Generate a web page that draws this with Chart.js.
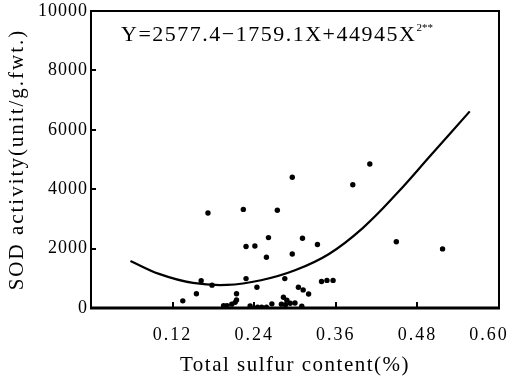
<!DOCTYPE html>
<html>
<head>
<meta charset="utf-8">
<script src="https://cdn.jsdelivr.net/npm/chart.js@4.4.1/dist/chart.umd.min.js"></script>
<style>
  html, body { margin: 0; padding: 0; background: #fff; }
  #wrap { width: 509px; height: 378px; }
</style>
</head>
<body>
<div id="wrap"><canvas id="chart" width="509" height="378"></canvas></div>
<script>
//  DATA
// sulfur content (%) and SOD activity for each sample
var sulfurX = [
  0.172, 0.224, 0.274, 0.296, 0.385, 0.410, 0.228, 0.241, 0.261, 0.258,
  0.296, 0.311, 0.333, 0.449, 0.517, 0.162, 0.178, 0.228, 0.285, 0.244,
  0.155, 0.135, 0.214, 0.214, 0.212, 0.207, 0.200, 0.195, 0.234, 0.245,
  0.251, 0.258, 0.266, 0.283, 0.288, 0.293, 0.280, 0.286, 0.300, 0.310,
  0.305, 0.312, 0.320, 0.339, 0.347, 0.356
];
var sodY = [
  3200, 3320, 3290, 4400, 4150, 4850, 2070, 2090, 2370, 1710,
  1820, 2350, 2140, 2230, 1990, 920, 770, 990, 990, 700,
  480, 240, 480, 270, 190, 130, 80, 80, 70, 30,
  30, 30, 140, 360, 260, 160, 130, 110, 170, 60,
  700, 610, 470, 890, 930, 930
];

// fitted curve
var curveX = [0.058, 0.10, 0.15, 0.20, 0.25, 0.30, 0.35, 0.40, 0.45, 0.50, 0.557];
var curveY = [1585, 1150, 845, 778, 935, 1270, 1820, 2700, 3860, 5150, 6620];

var xTicks = [0, 0.12, 0.24, 0.36, 0.48, 0.60];
var yTicks = [0, 2000, 4000, 6000, 8000, 10000];

var equation = "Y=2577.4\u22121759.1X+44945X";
var equationSup = "2**";

//  HELPERS
function pairs(xs, ys) {
  var out = [];
  for (var i = 0; i < xs.length; i++) out.push({ x: xs[i], y: ys[i] });
  return out;
}

var SERIF = "'Liberation Serif', 'DejaVu Serif', serif";

function withSpacing(fn, sp) {
  return function (a) {
    var c = this.ctx;
    c.save();
    c.letterSpacing = sp;
    fn.call(this, a);
    c.restore();
  };
}

// letter spacing on the axis text, the print is quite spread out
var spacingPlugin = {
  id: "spacing",
  afterLayout: function (chart) {
    var xs = chart.scales.x;
    var ys = chart.scales.y;
    if (!xs._spaced) {
      xs.drawLabels = withSpacing(xs.drawLabels, "2px");
      xs.drawTitle = withSpacing(xs.drawTitle, "1.5px");
      // last label sits a bit left of its tick, against the edge
      var origItems = xs.getLabelItems;
      xs.getLabelItems = function (a) {
        var items = origItems.call(this, a);
        var last = items[items.length - 1];
        if (last && !last._shifted) {
          last.options.translation[0] -= 10;
          last._shifted = true;
        }
        return items;
      };
      xs._spaced = true;
    }
    if (!ys._spaced) {
      ys.drawLabels = withSpacing(ys.drawLabels, "1px");
      ys.drawTitle = withSpacing(ys.drawTitle, "2px");
      ys._spaced = true;
    }
  }
};

// box round the plot, inward ticks, equation text
var framePlugin = {
  id: "frame",
  afterDraw: function (chart) {
    var ctx = chart.ctx;
    var a = chart.chartArea;
    var xs = chart.scales.x;
    var ys = chart.scales.y;

    ctx.save();
    ctx.strokeStyle = "#000";
    ctx.lineWidth = 2;
    ctx.strokeRect(a.left, a.top, a.right - a.left, a.bottom - a.top);
    ctx.lineWidth = 3;
    ctx.beginPath();
    ctx.moveTo(a.left - 1, a.bottom);
    ctx.lineTo(a.right + 1, a.bottom);
    ctx.stroke();

    ctx.lineWidth = 2;
    ctx.beginPath();
    for (var i = 1; i < yTicks.length - 1; i++) {
      var py = Math.round(ys.getPixelForValue(yTicks[i]));
      ctx.moveTo(a.left, py);
      ctx.lineTo(a.left + 5, py);
    }
    for (var j = 1; j < xTicks.length - 1; j++) {
      var px = Math.round(xs.getPixelForValue(xTicks[j]));
      ctx.moveTo(px, a.bottom);
      ctx.lineTo(px, a.bottom - 6);
    }
    ctx.stroke();

    // equation
    ctx.fillStyle = "#000";
    ctx.font = "22px " + SERIF;
    ctx.textBaseline = "middle";
    ctx.textAlign = "left";
    ctx.letterSpacing = "1.5px";
    var ex = a.left + 30;
    var ey = a.top + 24;
    ctx.fillText(equation, ex, ey);
    var w = ctx.measureText(equation).width;
    ctx.font = "11px " + SERIF;
    ctx.letterSpacing = "0px";
    ctx.fillText(equationSup, ex + w, ey - 7);
    ctx.restore();
  }
};

//  CHART
var chart = new Chart(document.getElementById("chart"), {
  type: "scatter",
  data: {
    datasets: [
      {
        label: "samples",
        data: pairs(sulfurX, sodY),
        pointRadius: 2.7,
        pointBackgroundColor: "#000",
        pointBorderWidth: 0,
        showLine: false
      },
      {
        label: "fit",
        data: pairs(curveX, curveY),
        showLine: true,
        borderColor: "#000",
        borderWidth: 2.2,
        pointRadius: 0,
        tension: 0.4,
        fill: false
      }
    ]
  },
  options: {
    responsive: false,
    animation: false,
    events: [],
    layout: { padding: { top: 11, right: 10, left: 0, bottom: 0 } },
    plugins: {
      legend: { display: false },
      tooltip: { enabled: false }
    },
    scales: {
      x: {
        type: "linear",
        min: 0,
        max: 0.6,
        afterBuildTicks: function (s) {
          s.ticks = xTicks.map(function (v) { return { value: v }; });
        },
        afterFit: function (s) {
          s.height = 70;
          s.paddingLeft = 0;
          s.paddingRight = 0;
        },
        grid: { display: false, drawTicks: false },
        border: { display: false },
        ticks: {
          color: "#000",
          padding: 16,
          maxRotation: 0,
          autoSkip: false,
          font: { family: SERIF, size: 18 },
          callback: function (v) { return v < 0.01 ? "" : v.toFixed(2); }
        },
        title: {
          display: true,
          text: "Total sulfur content(%)",
          color: "#000",
          font: { family: SERIF, size: 21 },
          padding: { top: 4, bottom: 0 }
        }
      },
      y: {
        type: "linear",
        min: 0,
        max: 10000,
        afterBuildTicks: function (s) {
          s.ticks = yTicks.map(function (v) { return { value: v }; });
        },
        afterFit: function (s) {
          s.width = 91;
          s.paddingTop = 0;
          s.paddingBottom = 0;
        },
        grid: { display: false, drawTicks: false },
        border: { display: false },
        ticks: {
          color: "#000",
          padding: 3,
          font: { family: SERIF, size: 18 },
          callback: function (v) { return String(v); }
        },
        title: {
          display: true,
          text: "SOD activity(unit/g.fwt.)",
          color: "#000",
          font: { family: SERIF, size: 21 },
          padding: { top: 5, bottom: 0 }
        }
      }
    }
  },
  plugins: [spacingPlugin, framePlugin]
});
</script>
</body>
</html>
